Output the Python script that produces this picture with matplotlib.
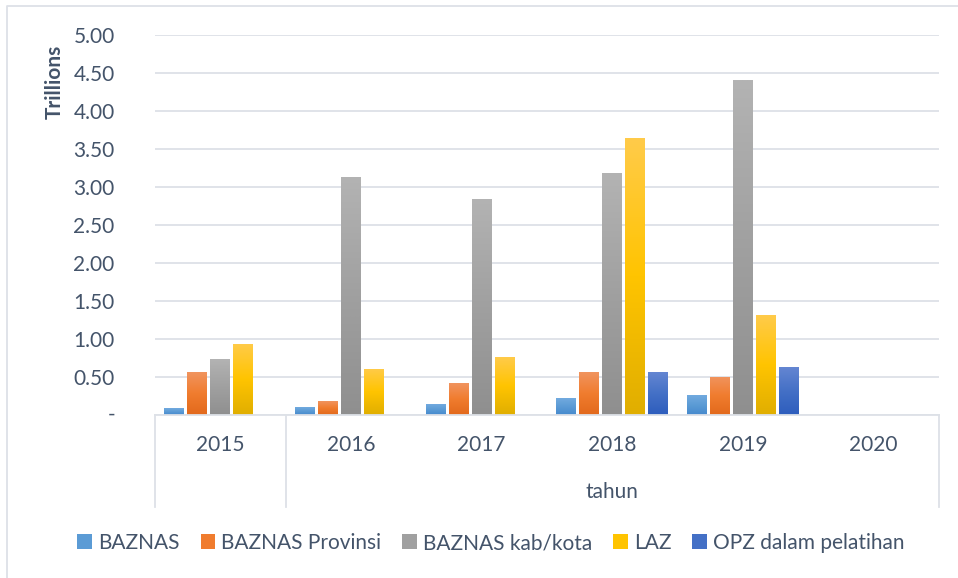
import numpy as np
import matplotlib
matplotlib.use("Agg")
import matplotlib.pyplot as plt
import matplotlib.transforms as mtransforms
from matplotlib.colors import LinearSegmentedColormap
from matplotlib.patches import Patch
from matplotlib.lines import Line2D

plt.rcParams['font.family'] = ['Lato', 'DejaVu Sans']

# ---- data ----
years = ['2015', '2016', '2017', '2018', '2019', '2020']
series_names = ['BAZNAS', 'BAZNAS Provinsi', 'BAZNAS kab/kota', 'LAZ', 'OPZ dalam pelatihan']
baznas = [0.09, 0.10, 0.14, 0.22, 0.26, 0.0]
baznas_prov = [0.56, 0.18, 0.42, 0.56, 0.50, 0.0]
baznas_kab = [0.73, 3.13, 2.84, 3.18, 4.40, 0.0]
laz = [0.94, 0.61, 0.76, 3.64, 1.31, 0.0]
opz = [0.0, 0.0, 0.0, 0.56, 0.63, 0.0]
yticks = [0, 0.5, 1.0, 1.5, 2.0, 2.5, 3.0, 3.5, 4.0, 4.5, 5.0]
ytick_labels = ['-', '0.50', '1.00', '1.50', '2.00', '2.50', '3.00', '3.50', '4.00', '4.50', '5.00']
y_title = 'Trillions'
x_title = 'tahun'

series = [baznas, baznas_prov, baznas_kab, laz, opz]
# gradient colours (bottom, middle, top)
grads = [
    ('#4589CD', '#5B9BD5', '#72AADF'),
    ('#E2691C', '#F07C2E', '#F1945F'),
    ('#8F8F8F', '#A0A0A0', '#B3B3B3'),
    ('#E0AE00', '#FFC400', '#FFCB4A'),
    ('#2D5DBD', '#4470C6', '#6486D2'),
]

text_color = '#44546A'
grid_color = '#DDE1E7'

W, H = 958, 578
fig = plt.figure(figsize=(W / 100, H / 100), dpi=100)
ax = fig.add_axes([155 / W, 1 - 415 / H, (939 - 155) / W, (415 - 34.7) / H])

x = np.arange(len(years))
slot = 0.176
bw = 0.153
for i, (vals, g) in enumerate(zip(series, grads)):
    cm = LinearSegmentedColormap.from_list('g%d' % i, list(g))
    bars = ax.bar(x + (i - 2) * slot, vals, width=bw, color='none', edgecolor='none', zorder=2)
    for p in bars:
        h = p.get_height()
        if not h > 0:
            continue
        x0 = p.get_x()
        w = p.get_width()
        grad = np.linspace(1, 0, 256).reshape(-1, 1)
        im = ax.imshow(grad, cmap=cm, vmin=0, vmax=1, extent=(x0, x0 + w, 0, h),
                       aspect='auto', origin='upper', zorder=2, interpolation='bilinear')
        im.set_clip_path(p)

ax.set_xlim(-0.5, 5.5)
ax.set_ylim(0, 5)
ax.set_aspect('auto')

for s in ['top', 'right', 'left']:
    ax.spines[s].set_visible(False)
ax.spines['bottom'].set_color(grid_color)
ax.spines['bottom'].set_linewidth(1.3)
ax.spines['bottom'].set_zorder(3)

ax.set_yticks(yticks)
ax.set_yticklabels([''] + ytick_labels[1:])
ax.tick_params(axis='y', length=0, pad=29, labelsize=15, labelcolor=text_color)
ax.grid(axis='y', color=grid_color, linewidth=1.3, zorder=0)
ax.set_axisbelow(True)
ax.set_xticks([])

# zero label "-"
trans_y = mtransforms.blended_transform_factory(ax.transAxes, ax.transData)
ax.text(-43 / (939 - 155), 0, ytick_labels[0], transform=trans_y, ha='center', va='center',
        fontsize=15, color=text_color)

# multi-level category axis
trans = mtransforms.blended_transform_factory(ax.transData, ax.transAxes)
ah = 415 - 34.7
for xv in [-0.5, 0.5, 5.5]:
    ax.add_line(Line2D([xv, xv], [0, -92 / ah], transform=trans, color=grid_color,
                       lw=1.3, clip_on=False))
for xi, yr in zip(x, years):
    ax.text(xi, -30 / ah, yr, transform=trans, ha='center', va='center',
            fontsize=15, color=text_color)
ax.text(3.0, -77 / ah, x_title, transform=trans, ha='center', va='center',
        fontsize=15, color=text_color)

# y title
fig.text(55 / W, 1 - 82 / H, y_title, rotation=90, ha='center', va='center',
         fontsize=15, fontweight='bold', color=text_color)

# outer frame (left and top)
fig.add_artist(Line2D([7 / W, 7 / W, 1.0], [0, 1 - 6 / H, 1 - 6 / H],
                      transform=fig.transFigure, color=grid_color, lw=1.3))

handles = [Patch(facecolor=g[1], edgecolor='none') for g in grads]
fig.legend(handles, series_names, loc='center', bbox_to_anchor=(491 / W, 1 - 543 / H),
           ncol=5, frameon=False, fontsize=15, labelcolor=text_color,
           handlelength=0.7, handleheight=0.7, handletextpad=0.3, columnspacing=1.0)

fig.savefig('out.png', dpi=100, facecolor='white')
